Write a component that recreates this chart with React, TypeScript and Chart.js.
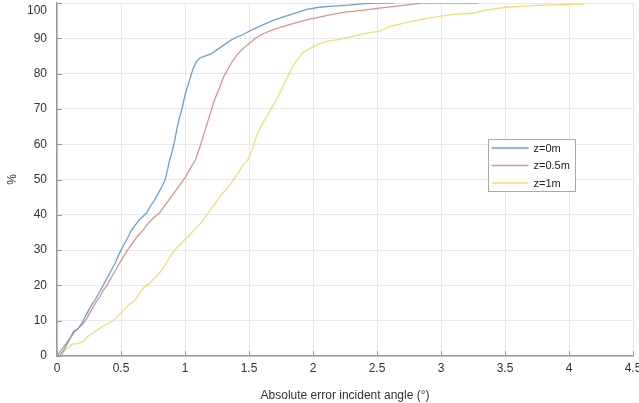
import React, { useEffect, useRef } from "react";
import { Chart, registerables } from "chart.js";

Chart.register(...registerables);

// ---- data ----
const seriesLabels = ["z=0m", "z=0.5m", "z=1m"];

const xTickLabels = ["0", "0.5", "1", "1.5", "2", "2.5", "3", "3.5", "4", "4.5"];
const yTickLabels = ["0", "10", "20", "30", "40", "50", "60", "70", "80", "90", "100"];

// z=0m : [angle error (°), cumulative %]
const z0x = [0.02, 0.05, 0.08, 0.11, 0.13, 0.16, 0.19, 0.21, 0.24, 0.27, 0.3, 0.33, 0.36, 0.39, 0.42, 0.45, 0.48, 0.5, 0.53, 0.56, 0.58, 0.61, 0.64, 0.67, 0.7, 0.73, 0.76, 0.79, 0.82, 0.845, 0.865, 0.88, 0.9, 0.92, 0.94, 0.96, 0.98, 1.0, 1.03, 1.06, 1.09, 1.12, 1.16, 1.2, 1.24, 1.28, 1.32, 1.36, 1.4, 1.45, 1.5, 1.56, 1.62, 1.7, 1.78, 1.87, 1.95, 2.05, 2.15, 2.28, 2.4, 2.5, 2.63];
const z0y = [0, 1.5, 3.5, 5.5, 7, 7.5, 9, 10.5, 12.5, 14.5, 16, 18, 20, 22, 24, 26, 28.5, 30, 32, 34, 35.5, 37, 38.5, 39.5, 40.5, 42.5, 44, 46, 48, 50, 53, 55.5, 58, 61, 65, 68, 70.5, 74, 77.5, 81, 83.5, 84.5, 85, 85.5, 86.5, 87.5, 88.5, 89.5, 90.3, 91, 92, 93, 94, 95.2, 96.2, 97.2, 98.2, 98.8, 99.1, 99.4, 99.8, 100, 100];

// z=0.5m
const z05x = [0.0, 0.04, 0.08, 0.11, 0.14, 0.17, 0.2, 0.23, 0.26, 0.3, 0.33, 0.36, 0.39, 0.42, 0.46, 0.5, 0.55, 0.59, 0.63, 0.67, 0.71, 0.75, 0.8, 0.84, 0.88, 0.92, 0.96, 1.0, 1.04, 1.08, 1.11, 1.14, 1.17, 1.2, 1.23, 1.27, 1.3, 1.33, 1.37, 1.41, 1.45, 1.5, 1.55, 1.61, 1.68, 1.75, 1.85, 1.95, 2.05, 2.15, 2.25, 2.4, 2.5, 2.62, 2.72, 2.85, 3.29];
const z05y = [0, 2, 4, 5.5, 7, 8, 9, 10.5, 12.5, 15, 16.5, 18.5, 20, 22, 24.5, 27, 30, 32, 34, 35.5, 37.5, 39, 40.5, 42.5, 44.5, 46.5, 48.5, 50.5, 53, 55.5, 58.5, 62, 65.5, 69, 72.5, 76, 79, 81, 83.5, 85.5, 87, 88.5, 90, 91.3, 92.3, 93.2, 94.2, 95.2, 96, 96.8, 97.4, 98, 98.5, 99, 99.4, 100, 100];

// z=1m
const z1x = [0.03, 0.06, 0.09, 0.12, 0.16, 0.2, 0.24, 0.28, 0.32, 0.36, 0.4, 0.44, 0.48, 0.52, 0.56, 0.6, 0.64, 0.68, 0.72, 0.76, 0.8, 0.84, 0.88, 0.92, 0.96, 1.0, 1.04, 1.08, 1.12, 1.17, 1.21, 1.25, 1.29, 1.33, 1.37, 1.41, 1.45, 1.49, 1.53, 1.56, 1.6, 1.64, 1.68, 1.72, 1.76, 1.8, 1.84, 1.88, 1.92, 1.97, 2.05, 2.12, 2.2, 2.3, 2.4, 2.52, 2.6, 2.7, 2.8, 2.9, 3.0, 3.1, 3.25, 3.35, 3.5, 3.65, 3.8, 4.0, 4.12];
const z1y = [0, 1.5, 2.5, 3.4, 3.5, 4, 5.5, 6.5, 7.5, 8.5, 9.2, 10, 11.5, 13, 14.5, 15.5, 17.5, 19.5, 20.5, 22, 23.5, 25.5, 28, 30, 31.5, 33, 34.5, 36, 37.5, 40, 42, 44, 46, 47.5, 49.5, 51.5, 54, 55.5, 59, 62.5, 65.5, 68, 70.5, 73, 76, 79, 82, 84, 86, 87, 88.5, 89.3, 89.6, 90.5, 91.3, 92, 93.3, 94.2, 95, 95.7, 96.3, 96.8, 97.1, 98, 98.8, 99.1, 99.4, 99.6, 99.7];

const colors = ["#6f9fd0", "#d9958c", "#f0dc78"];

const FONT = "'Liberation Sans', Arial, Helvetica, sans-serif";

function pts(xs: number[], ys: number[]) {
  return xs.map((x, i) => ({ x, y: ys[i] }));
}

const innerTicks = {
  id: "innerTicks",
  afterDatasetsDraw(chart: any) {
    const ctx = chart.ctx;
    const xs = chart.scales.x;
    const ys = chart.scales.y;
    const area = chart.chartArea;
    ctx.save();
    ctx.strokeStyle = "#9a9a9a";
    ctx.lineWidth = 1;
    xs.ticks.forEach((t: any) => {
      const px = Math.round(xs.getPixelForValue(t.value)) + 0.5;
      ctx.beginPath();
      ctx.moveTo(px, area.bottom);
      ctx.lineTo(px, area.bottom - 5);
      ctx.stroke();
    });
    ys.ticks.forEach((t: any) => {
      const py = Math.round(ys.getPixelForValue(t.value)) + 0.5;
      ctx.beginPath();
      ctx.moveTo(area.left, py);
      ctx.lineTo(area.left + 5, py);
      ctx.stroke();
    });
    ctx.restore();
  },
};

const boxLegend = {
  id: "boxLegend",
  afterDraw(chart: any) {
    const ctx = chart.ctx;
    const x = 488.5, y = 139.5, w = 87, h = 52;
    ctx.save();
    ctx.fillStyle = "#ffffff";
    ctx.fillRect(x, y, w, h);
    ctx.strokeStyle = "#a8a8a8";
    ctx.lineWidth = 1;
    ctx.strokeRect(x, y, w, h);
    ctx.font = `11px ${FONT}`;
    ctx.textBaseline = "middle";
    ctx.textAlign = "left";
    chart.data.datasets.forEach((ds: any, i: number) => {
      const ly = y + 8.5 + i * 17.5;
      ctx.strokeStyle = ds.borderColor;
      ctx.lineWidth = 1.3;
      ctx.beginPath();
      ctx.moveTo(x + 3, ly);
      ctx.lineTo(x + 40, ly);
      ctx.stroke();
      ctx.fillStyle = "#222222";
      ctx.fillText(ds.label, x + 45, ly + 0.5);
    });
    ctx.restore();
  },
};

export default function App() {
  const ref = useRef<HTMLCanvasElement | null>(null);

  useEffect(() => {
    document.body.style.margin = "0";
    const canvas = ref.current!;
    const tickFont = { family: FONT, size: 12 };
    const chart = new Chart(canvas, {
      type: "scatter",
      data: {
        datasets: [
          { label: seriesLabels[0], data: pts(z0x, z0y), borderColor: colors[0], backgroundColor: colors[0] },
          { label: seriesLabels[1], data: pts(z05x, z05y), borderColor: colors[1], backgroundColor: colors[1] },
          { label: seriesLabels[2], data: pts(z1x, z1y), borderColor: colors[2], backgroundColor: colors[2] },
        ].map((d) => ({ ...d, showLine: true, pointRadius: 0, borderWidth: 1.3, tension: 0 })),
      },
      options: {
        responsive: false,
        animation: false,
        events: [],
        layout: { padding: { top: 3, right: 6, left: 0, bottom: 0 } },
        plugins: { legend: { display: false }, tooltip: { enabled: false } },
        scales: {
          x: {
            type: "linear",
            min: 0,
            max: 4.5,
            ticks: {
              stepSize: 0.5,
              padding: 5,
              color: "#333333",
              font: tickFont,
              maxRotation: 0,
              callback: (_v: any, i: number) => xTickLabels[i],
            },
            grid: { color: "#e8e8e8", drawTicks: false },
            border: { color: "#9a9a9a", width: 1.5 },
            title: {
              display: true,
              text: "Absolute error incident angle (°)",
              color: "#333333",
              font: tickFont,
              padding: { top: 13, bottom: 0 },
            },
            afterFit: (s: any) => {
              s.height = 47;
              s.paddingLeft = 0;
              s.paddingRight = 0;
            },
          },
          y: {
            type: "linear",
            min: 0,
            max: 100,
            ticks: {
              stepSize: 10,
              padding: 10,
              color: "#333333",
              font: tickFont,
              callback: (_v: any, i: number) => (i === yTickLabels.length - 1 ? ["", yTickLabels[i]] : yTickLabels[i]),
            },
            grid: { color: "#e8e8e8", drawTicks: false },
            border: { color: "#9a9a9a", width: 1.5 },
            title: {
              display: true,
              text: "%",
              color: "#333333",
              font: tickFont,
              padding: { top: 5, bottom: 0 },
            },
            afterFit: (s: any) => {
              s.width = 57;
              s.paddingTop = 0;
              s.paddingBottom = 0;
            },
          },
        },
      },
      plugins: [innerTicks, boxLegend],
    } as any);
    return () => chart.destroy();
  }, []);

  return (
    <div style={{ position: "absolute", left: 0, top: 0, width: 639, height: 403, background: "#fff" }}>
      <canvas ref={ref} width={639} height={403} style={{ display: "block" }} />
    </div>
  );
}
